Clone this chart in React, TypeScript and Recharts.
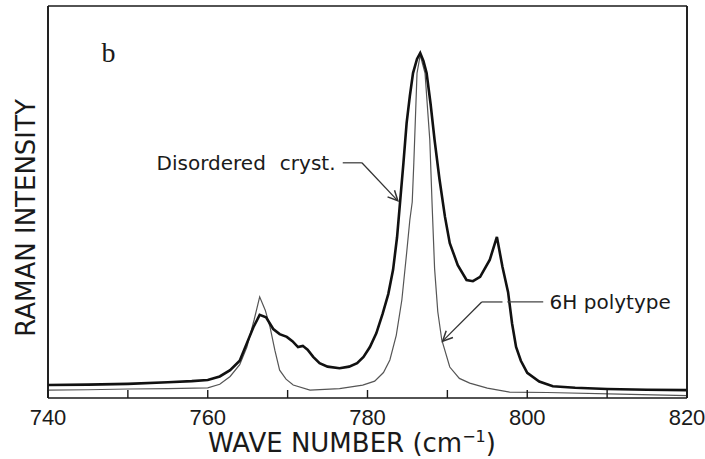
import React from 'react';
import { LineChart, Line, XAxis, YAxis, ReferenceLine, ReferenceDot } from 'recharts';

// wave number (cm-1) / intensity (arb. units, 0-100)
const disorderedWave = [
  740, 745, 750, 755, 758, 760, 761.5, 762.8, 764, 764.9, 765.7, 766.5, 767.3, 768.2, 769, 769.9,
  770.6, 771.3, 771.9, 772.5, 773.2, 774, 775, 776.5, 777.7, 778.7, 779.5, 780.3, 781.1, 781.9,
  782.6, 783.2, 783.7, 784.1, 784.5, 784.9, 785.3, 785.7, 786.2, 786.6, 787, 787.4, 787.9, 788.4,
  789, 789.7, 790.3, 791.3, 792.4, 793.2, 794.1, 795.3, 796.2, 796.9, 797.6, 798.1, 798.6, 799.2,
  800, 801.5, 803.2, 806, 810, 815, 820,
];
const disorderedIntensity = [
  3.3, 3.4, 3.6, 4.0, 4.3, 4.6, 5.5, 7.1, 9.5, 14, 18, 21.2, 20.6, 17.6, 16.3, 15.6,
  14.5, 13.0, 13.3, 12.3, 10.5, 8.9, 8.0, 7.6, 8.0, 8.9, 10.5, 13.0, 16.5, 21.5,
  26.5, 32.7, 41, 50.5, 60, 70.2, 77, 82.9, 86.5, 88.0, 86, 82.9, 75, 65.8,
  56, 46.2, 39.5, 33.9, 30.1, 29.8, 30.9, 35.2, 41.1, 33.4, 27, 19, 13, 9.5,
  6.4, 4.2, 3.0, 2.6, 2.3, 2.1, 2.0,
];

const polytypeWave = [
  740, 745, 750, 755, 760, 761.5, 762.8, 764, 764.9, 765.8, 766.5, 767.2, 767.8, 768.4, 769,
  769.8, 770.7, 772.8, 776.5, 779.4, 780.9, 782, 782.8, 783.6, 784.3, 784.9, 785.3, 785.6,
  785.8, 786.2, 786.6, 787.2, 787.8, 788.1, 788.4, 788.8, 789.3, 790.3, 791.5, 792.8, 795,
  797.8, 802.5, 811.6, 820,
];
const polytypeIntensity = [
  2.0, 2.1, 2.3, 2.4, 2.6, 3.5, 5.5, 8.5, 13.0, 19.9, 25.8, 22.4, 18.1, 12.2, 7.1,
  4.8, 3.3, 2.0, 2.4, 3.3, 4.3, 6.5, 9.7, 16, 25, 37, 45.4, 50,
  60, 82.9, 87.5, 82.9, 65.8, 48.7, 33, 22, 14.8, 7.9, 5.0, 3.8, 2.5,
  1.5, 1.4, 1.0, 0.6,
];

const bottomTicks = [740, 750, 760, 770, 780, 790, 800, 810, 820];
const tickLabels = [740, 760, 780, 800, 820];
const topTicks = [750, 810];

const disordered = disorderedWave.map((x, i) => ({ x, y: disorderedIntensity[i] }));
const polytype = polytypeWave.map((x, i) => ({ x, y: polytypeIntensity[i] }));

const font = '"DejaVu Sans", sans-serif';
const ink = '#1a1a1a';

const Arrow = (props: any) => {
  const { x1, y1, x2, y2 } = props;
  const a = Math.atan2(y2 - y1, x2 - x1);
  const len = 11;
  const spread = 0.45;
  const p1 = [x2 - len * Math.cos(a - spread), y2 - len * Math.sin(a - spread)];
  const p2 = [x2 - len * Math.cos(a + spread), y2 - len * Math.sin(a + spread)];
  return (
    <g>
      <line x1={x1} y1={y1} x2={x2} y2={y2} stroke="#333" strokeWidth={1.3} />
      <polyline
        points={`${p1[0]},${p1[1]} ${x2},${y2} ${p2[0]},${p2[1]}`}
        fill="none"
        stroke="#333"
        strokeWidth={1.5}
      />
    </g>
  );
};

const Plain = (props: any) => {
  const { x1, y1, x2, y2 } = props;
  return <line x1={x1} y1={y1} x2={x2} y2={y2} stroke="#444" strokeWidth={1.3} />;
};

export default function App() {
  return (
    <div style={{ position: 'fixed', left: 0, top: 0, background: '#fff' }}>
      <LineChart width={705} height={459} margin={{ top: 5, right: 17, bottom: 31, left: 47 }}>
        <XAxis
          xAxisId="b"
          type="number"
          dataKey="x"
          domain={[740, 820]}
          allowDataOverflow
          ticks={bottomTicks}
          interval={0}
          height={30}
          tickSize={-8}
          tickMargin={19}
          stroke={ink}
          axisLine={{ stroke: ink, strokeWidth: 1.6 }}
          tickLine={{ stroke: ink, strokeWidth: 1.4 }}
          tick={{ fontFamily: '"Liberation Sans", Arial, sans-serif', fontSize: 22, fill: ink }}
          tickFormatter={(v: number) => (tickLabels.includes(v) ? String(v) : '')}
          label={{
            content: (p: any) => {
              const vb = p.viewBox || { x: 48 };
              return (
                <text x={vb.x + 160} y={452} fontFamily={font} fontSize={26} fill={ink}>
                  WAVE NUMBER (cm
                  <tspan dy={-10} fontSize={16}>−1</tspan>
                  <tspan dy={10}>)</tspan>
                </text>
              );
            },
          }}
        />
        <XAxis
          xAxisId="t"
          orientation="top"
          type="number"
          dataKey="x"
          domain={[740, 820]}
          allowDataOverflow
          ticks={topTicks}
          interval={0}
          height={1}
          tickSize={-7}
          tick={false}
          axisLine={{ stroke: ink, strokeWidth: 1.6 }}
          tickLine={{ stroke: ink, strokeWidth: 1.4 }}
        />
        <YAxis
          yAxisId="l"
          type="number"
          domain={[0, 100]}
          allowDataOverflow
          width={1}
          tick={false}
          tickLine={false}
          axisLine={{ stroke: ink, strokeWidth: 1.6 }}
          label={{
            content: (p: any) => {
              const vb = p.viewBox || { x: 48, y: 6, height: 392 };
              const cx = 35;
              const cy = vb.y + vb.height / 2 + 16;
              return (
                <text
                  x={cx}
                  y={cy}
                  transform={`rotate(-90, ${cx}, ${cy})`}
                  textAnchor="middle"
                  fontFamily={font}
                  fontSize={26}
                  fill={ink}
                >
                  RAMAN INTENSITY
                </text>
              );
            },
          }}
        />
        <YAxis
          yAxisId="r"
          orientation="right"
          type="number"
          domain={[0, 100]}
          allowDataOverflow
          width={1}
          tick={false}
          tickLine={false}
          axisLine={{ stroke: ink, strokeWidth: 1.6 }}
        />

        {/* plot frame sides */}
        <ReferenceLine xAxisId="b" yAxisId="l" x={740} stroke={ink} strokeWidth={1.6} />
        <ReferenceLine xAxisId="b" yAxisId="l" x={820} stroke={ink} strokeWidth={1.6} />

        <Line
          xAxisId="b"
          yAxisId="l"
          data={polytype}
          dataKey="y"
          type="linear"
          dot={false}
          stroke="#555"
          strokeWidth={1.2}
          isAnimationActive={false}
        />
        <Line
          xAxisId="b"
          yAxisId="l"
          data={disordered}
          dataKey="y"
          type="linear"
          dot={false}
          stroke="#111"
          strokeWidth={2.6}
          isAnimationActive={false}
        />

        {/* annotations */}
        <ReferenceLine
          xAxisId="b"
          yAxisId="l"
          segment={[{ x: 776.9, y: 60 }, { x: 779.3, y: 60 }]}
          shape={Plain}
        />
        <ReferenceLine
          xAxisId="b"
          yAxisId="l"
          segment={[{ x: 779.3, y: 60 }, { x: 783.8, y: 50.3 }]}
          shape={Arrow}
        />
        <ReferenceLine
          xAxisId="b"
          yAxisId="l"
          segment={[{ x: 797.5, y: 24.5 }, { x: 802, y: 24.5 }]}
          shape={Plain}
        />
        <ReferenceLine
          xAxisId="b"
          yAxisId="l"
          segment={[{ x: 794.3, y: 24.5 }, { x: 796.9, y: 24.5 }]}
          shape={Plain}
        />
        <ReferenceLine
          xAxisId="b"
          yAxisId="l"
          segment={[{ x: 794.3, y: 24.5 }, { x: 789.4, y: 14.5 }]}
          shape={Arrow}
        />
        <ReferenceDot
          xAxisId="b"
          yAxisId="l"
          x={776}
          y={60}
          r={0}
          fill="none"
          stroke="none"
          label={{
            content: (p: any) => (
              <text
                x={p.viewBox.x}
                y={p.viewBox.y + 7}
                textAnchor="end"
                fontFamily={font}
                fontSize={20}
                fill={ink}
              >
                Disordered
                <tspan dx={14}>cryst.</tspan>
              </text>
            ),
          }}
        />
        <ReferenceDot
          xAxisId="b"
          yAxisId="l"
          x={802.8}
          y={24.5}
          r={0}
          fill="none"
          stroke="none"
          label={{
            content: (p: any) => (
              <text
                x={p.viewBox.x}
                y={p.viewBox.y + 7}
                fontFamily={font}
                fontSize={20}
                fill={ink}
              >
                6H polytype
              </text>
            ),
          }}
        />
        <ReferenceDot
          xAxisId="b"
          yAxisId="l"
          x={746.7}
          y={88.3}
          r={0}
          fill="none"
          stroke="none"
          label={{
            content: (p: any) => (
              <text
                x={p.viewBox.x}
                y={p.viewBox.y + 10}
                fontFamily='"Liberation Serif", serif'
                fontSize={28}
                fill={ink}
              >
                b
              </text>
            ),
          }}
        />
      </LineChart>
    </div>
  );
}
